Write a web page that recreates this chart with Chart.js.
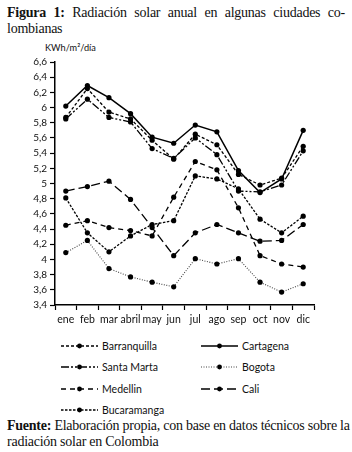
<!DOCTYPE html>
<html>
<head>
<meta charset="utf-8">
<script src="https://cdn.jsdelivr.net/npm/chart.js@4"></script>
<style>
  body { margin: 0; width: 352px; height: 452px; background: #fff; position: relative; overflow: hidden; }
  .cap { position: absolute; left: 7px; width: 338px; font-family: "Liberation Serif", serif; font-size: 14px; line-height: 16px; color: #111; letter-spacing: -0.25px; }
  .cap .l1 { display: block; text-align: justify; text-align-last: justify; white-space: nowrap; }
  #unit { position: absolute; left: 45px; top: 42px; font-family: Lato, sans-serif; font-size: 9.2px; color: #111; }
  #wrap { position: absolute; left: 0; top: 50px; width: 330px; height: 280px; }
  #legend { position: absolute; left: 61px; top: 335px; display: grid; grid-template-columns: 140px 140px; grid-auto-rows: 21.5px; font-family: Lato, sans-serif; font-size: 10.5px; color: #111; }
  #legend div { display: flex; align-items: center; }
  #legend svg { margin-right: 4px; flex: none; }
</style>
</head>
<body>
<div class="cap" style="top:5px"><span class="l1"><b>Figura 1:</b> Radiación solar anual en algunas ciudades co-</span>lombianas</div>
<div id="unit">KWh/m²/día</div>
<div id="wrap"><canvas id="lineChart"></canvas></div>
<div id="legend"></div>
<div class="cap" style="top:418px"><span class="l1"><b>Fuente:</b> Elaboración propia, con base en datos técnicos sobre la</span>radiación solar en Colombia</div>
<script>
var months = ['ene', 'feb', 'mar', 'abril', 'may', 'jun', 'jul', 'ago', 'sep', 'oct', 'nov', 'dic'];
var barranquilla = [5.87, 6.25, 5.94, 5.85, 5.57, 5.32, 5.65, 5.51, 5.12, 4.98, 5.07, 5.49];
var cartagena = [6.02, 6.29, 6.13, 5.92, 5.61, 5.53, 5.77, 5.68, 5.17, 4.88, 5.06, 5.70];
var santaMarta = [5.85, 6.11, 5.87, 5.81, 5.46, 5.33, 5.60, 5.38, 4.90, 4.89, 4.98, 5.43];
var bogota = [4.09, 4.25, 3.88, 3.77, 3.70, 3.64, 4.01, 3.94, 4.01, 3.70, 3.57, 3.68];
var medellin = [4.45, 4.51, 4.42, 4.38, 4.31, 4.82, 5.29, 5.18, 4.68, 4.05, 3.94, 3.90];
var cali = [4.90, 4.96, 5.03, 4.79, 4.42, 4.05, 4.35, 4.46, 4.35, 4.24, 4.25, 4.46];
var bucaramanga = [4.81, 4.35, 4.10, 4.31, 4.46, 4.51, 5.10, 5.06, 4.93, 4.53, 4.35, 4.57];
var yTicks = [3.4, 6.6, 0.2];

var mk = function (label, data, dash, color, width) {
    return {
        label: label,
        data: data,
        borderColor: color,
        backgroundColor: '#000',
        borderWidth: width,
        borderDash: dash,
        pointRadius: 2.6,
        pointBorderWidth: 0,
        pointBackgroundColor: '#000',
        tension: 0,
        fill: false
    };
};

var datasets = [
    mk('Barranquilla', barranquilla, [3, 2], '#000', 1.3),
    mk('Cartagena', cartagena, [], '#000', 1.5),
    mk('Santa Marta', santaMarta, [8, 2, 2, 2, 2, 2], '#000', 1.3),
    mk('Bogota', bogota, [1, 1.5], '#444', 1.1),
    mk('Medellin', medellin, [5, 4], '#000', 1.3),
    mk('Cali', cali, [9, 4], '#000', 1.3),
    mk('Bucaramanga', bucaramanga, [2.5, 1.5], '#000', 1.3)
];

var lineChart = new Chart(document.getElementById('lineChart'), {
    type: 'line',
    data: { labels: months, datasets: datasets },
    options: {
        responsive: true,
        maintainAspectRatio: false,
        animation: false,
        layout: { padding: { top: 12, right: 16, bottom: 0, left: 0 } },
        plugins: { legend: { display: false }, tooltip: { enabled: false } },
        scales: {
            x: {
                offset: true,
                afterFit: function (s) { s.height = 25; },
                border: { color: '#000', width: 1.5 },
                grid: { display: true, drawOnChartArea: false, offset: true, tickLength: 5, color: '#000', tickWidth: 1.2 },
                ticks: { autoSkip: false, maxRotation: 0, padding: 3, color: '#111', font: { family: 'Lato', size: 10.5 } }
            },
            y: {
                min: yTicks[0],
                max: yTicks[1],
                afterFit: function (s) { s.width = 55; },
                border: { color: '#000', width: 1.5 },
                grid: { display: true, drawOnChartArea: false, tickLength: 5, color: '#000', tickWidth: 1.2 },
                ticks: {
                    stepSize: yTicks[2],
                    padding: 3,
                    color: '#111',
                    font: { family: 'Lato', size: 10 },
                    callback: function (v) { return (Math.round(v * 10) / 10).toString().replace('.', ','); }
                }
            }
        }
    }
});

// legend built from the datasets
var leg = document.getElementById('legend');
datasets.forEach(function (d) {
    var row = document.createElement('div');
    var dash = d.borderDash.length ? d.borderDash.join(' ') : 'none';
    row.innerHTML = '<svg width="37" height="8"><line x1="0" y1="4" x2="37" y2="4" stroke="' + d.borderColor +
        '" stroke-width="' + d.borderWidth + '" stroke-dasharray="' + dash + '"/><circle cx="18.5" cy="4" r="2.4" fill="#000"/></svg>' +
        '<span>' + d.label + '</span>';
    leg.appendChild(row);
});
</script>
</body>
</html>
